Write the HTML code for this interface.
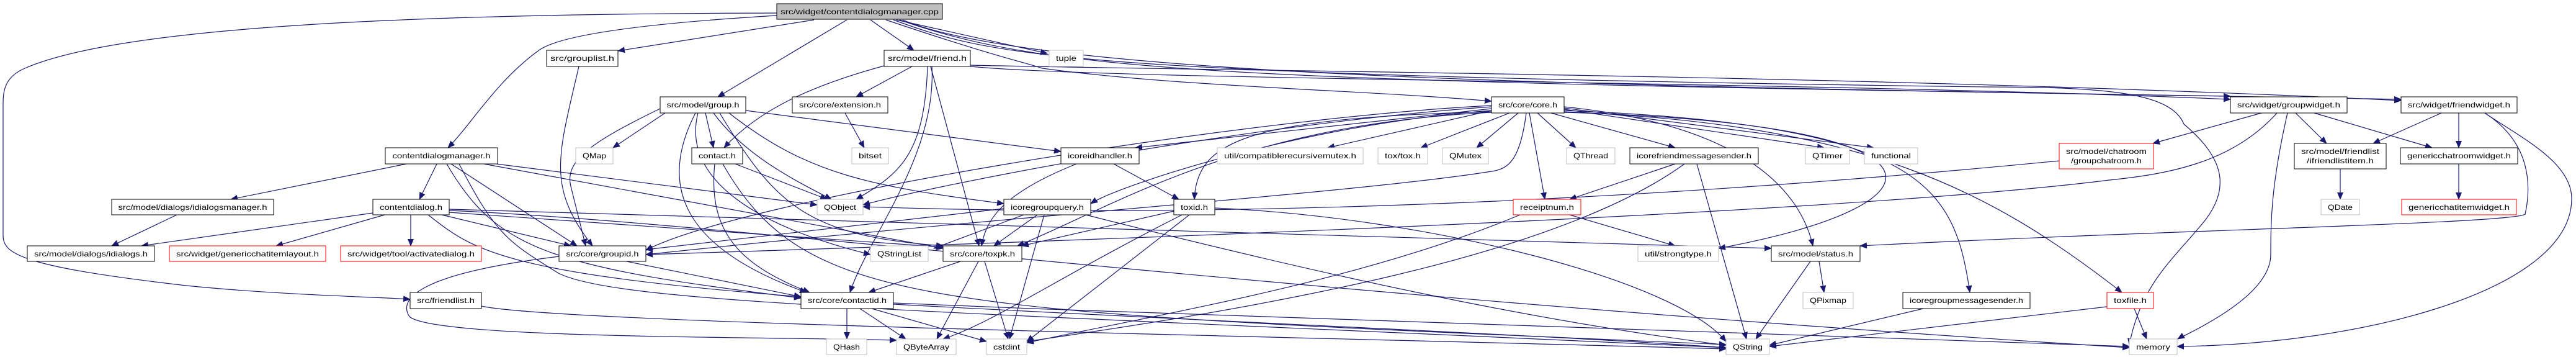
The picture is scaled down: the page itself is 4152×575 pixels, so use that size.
<!DOCTYPE html>
<html><head><meta charset="utf-8"><style>
html,body{margin:0;padding:0;background:#fff;}
svg{display:block;}
text{font-family:"Liberation Sans",sans-serif;font-size:12px;fill:#000;}
.e{fill:none;stroke:#191970;stroke-width:1.2;marker-end:url(#a);}
.b{fill:#fff;stroke:#000;stroke-width:1;}
.g{fill:#fff;stroke:#bfbfbf;stroke-width:1;}
.r{fill:#fff;stroke:#ff0000;stroke-width:1;}
.root{fill:#bfbfbf;stroke:#000;stroke-width:1;}
</style></head><body>
<svg width="4152" height="575" viewBox="0 0 4152 575" xmlns="http://www.w3.org/2000/svg">
<defs><marker id="a" markerUnits="userSpaceOnUse" markerWidth="12" markerHeight="10" refX="11" refY="5" orient="auto"><path d="M0,0 L12,5 L0,10 z" fill="#191970"/></marker></defs>
<g>
<!-- edges from root -->
<path class="e" d="M1252,21 C700,22 200,40 40,110 C5,125 5,150 5,170 L5,380 C5,410 40,430 300,460 C450,475 600,478 661,482"/>
<path class="e" d="M1252,25 C1000,40 900,60 870,80 C800,130 760,200 722,238"/>
<path class="e" d="M1312,32 L996,82"/>
<path class="e" d="M1365,32 L1157,156"/>
<path class="e" d="M1403,32 L1473,81"/>
<path class="e" d="M1445,32 L1688,86"/>
<path class="e" d="M1428,32 C1600,90 1650,100 1680,110 C1900,140 2200,145 2404,163"/>
<path class="e" d="M1450,32 C1700,120 2000,130 3595,155"/>
<path class="e" d="M1455,32 C1700,135 2800,140 3870,160"/>
<path class="e" d="M1440,32 C1600,90 1700,120 3200,140 C3400,140 3500,150 3520,200 C3580,250 3600,300 3550,360 C3500,420 3450,460 3432,556"/>
<!-- contentdialogmanager -->
<path class="e" d="M655,264 L372,321"/>
<path class="e" d="M704,264 L676,321"/>
<path class="e" d="M727,264 L930,396"/>
<path class="e" d="M720,264 C800,400 880,430 1291,480"/>
<path class="e" d="M800,264 L1317,330"/>
<path class="e" d="M780,264 L1520,400"/>
<path class="e" d="M740,264 C800,380 820,390 900,440 C1000,490 1500,500 2782,560"/>
<!-- contentdialog -->
<path class="e" d="M601,343 L228,396"/>
<path class="e" d="M620,346 L445,396"/>
<path class="e" d="M662,346 L662,396"/>
<path class="e" d="M712,346 L920,396"/>
<path class="e" d="M690,346 C760,400 800,440 1291,478"/>
<path class="e" d="M724,342 L1520,398"/>
<path class="e" d="M724,337 L2855,400"/>
<path class="e" d="M724,339 C1200,360 2000,470 3432,560"/>
<path class="e" d="M285,346 L180,396"/>
<!-- grouplist, groupid, friendlist -->
<path class="e" d="M933,107 C900,250 880,300 955,396"/>
<path class="e" d="M1010,421 L1291,478"/>
<path class="e" d="M901,413 C680,440 640,480 660,510 C700,545 1200,542 1445,548"/>
<path class="e" d="M776,493 C900,520 2000,540 2782,562"/>
<!-- group.h -->
<path class="e" d="M1137,182 L1150,238"/>
<path class="e" d="M1150,182 C1200,250 1280,290 1340,321"/>
<path class="e" d="M1064,175 C950,230 910,260 920,300 C930,340 940,380 944,396"/>
<path class="e" d="M1072,182 L988,238"/>
<path class="e" d="M1202,178 L1710,244"/>
<path class="e" d="M1175,182 C1300,280 1400,300 1618,328"/>
<path class="e" d="M1160,182 C1250,330 1300,380 1520,396"/>
<path class="e" d="M1121,182 C1060,300 1100,400 1300,471"/>
<path class="e" d="M1125,182 C1100,280 1200,360 1403,410"/>
<!-- friend.h -->
<path class="e" d="M1470,107 L1380,156"/>
<path class="e" d="M1425,106 C1300,140 1220,180 1167,238"/>
<path class="e" d="M1495,107 C1490,250 1450,280 1380,321"/>
<path class="e" d="M1500,107 L1578,396"/>
<path class="e" d="M1502,107 C1510,250 1400,380 1370,471"/>
<path class="e" d="M1564,107 C1800,130 2900,130 3595,160"/>
<path class="e" d="M1564,105 C2000,115 3000,120 3870,162"/>
<!-- extension / contact -->
<path class="e" d="M1362,182 L1393,238"/>
<path class="e" d="M1185,264 L1333,321"/>
<path class="e" d="M1152,264 C1140,380 1200,430 1305,471"/>
<path class="e" d="M1165,264 C1300,500 1500,500 2782,555"/>
<!-- icoreidhandler / icoregroupquery / toxid / toxpk -->
<path class="e" d="M1795,264 L1900,321"/>
<path class="e" d="M1735,264 C1620,310 1590,350 1582,396"/>
<path class="e" d="M1650,346 L1505,400"/>
<path class="e" d="M1672,346 L1602,396"/>
<path class="e" d="M1683,346 L1627,546"/>
<path class="e" d="M1618,336 L1041,402"/>
<path class="e" d="M1750,346 C2200,460 2500,520 2782,556"/>
<path class="e" d="M1917,346 L1655,550"/>
<path class="e" d="M1905,346 C1700,450 1600,520 1520,546"/>
<path class="e" d="M1892,340 L1647,396"/>
<path class="e" d="M1958,335 C2300,350 2700,450 2782,550"/>
<path class="e" d="M1548,421 L1400,471"/>
<path class="e" d="M1577,421 L1510,546"/>
<path class="e" d="M1587,421 L1625,546"/>
<path class="e" d="M1365,497 L1365,546"/>
<path class="e" d="M1386,497 L1460,546"/>
<path class="e" d="M1405,497 L1590,550"/>
<path class="e" d="M1440,490 C2000,520 2500,540 2782,560"/>
<path class="e" d="M1440,488 C2200,520 3000,540 3432,558"/>
<!-- core.h -->
<path class="e" d="M2404,178 L2140,238"/>
<path class="e" d="M2433,182 L2290,238"/>
<path class="e" d="M2447,182 L2380,238"/>
<path class="e" d="M2478,182 L2540,238"/>
<path class="e" d="M2500,182 L2700,238"/>
<path class="e" d="M2521,176 L2940,238"/>
<path class="e" d="M2521,174 L3020,238"/>
<path class="e" d="M2465,182 L2490,321"/>
<path class="e" d="M2521,172 C2800,200 2900,300 2922,396"/>
<path class="e" d="M2404,172 C2000,200 1500,300 1391,330"/>
<path class="e" d="M2404,175 L1830,238"/>
<path class="e" d="M2404,178 C2100,200 1800,300 1758,328"/>
<path class="e" d="M2404,180 C2000,190 1930,230 1925,321"/>
<path class="e" d="M2404,181 C2000,200 1800,330 1640,396"/>
<path class="e" d="M2404,170 C2000,190 1200,320 1041,403"/>
<path class="e" d="M2521,178 C3100,200 3150,300 3175,471"/>
<path class="e" d="M2521,180 C3000,200 3200,300 3420,471"/>
<path class="e" d="M2521,181 C3180,200 3150,330 2770,400"/>
<path class="e" d="M2460,182 C2450,260 2430,270 2410,275 C2200,310 1600,350 1041,410"/>
<!-- icorefriendmessagesender / receiptnum / status -->
<path class="e" d="M2700,264 L2530,321"/>
<path class="e" d="M2735,264 L2815,546"/>
<path class="e" d="M2715,264 C2500,420 2000,500 1655,550"/>
<path class="e" d="M2530,346 L2700,396"/>
<path class="e" d="M2450,346 C2200,450 1900,500 1655,552"/>
<path class="e" d="M2932,421 L2940,471"/>
<path class="e" d="M2918,421 L2830,546"/>
<path class="e" d="M3100,497 L2852,556"/>
<path class="e" d="M3440,497 L3460,546"/>
<path class="e" d="M3396,494 L2852,558"/>
<!-- widgets -->
<path class="e" d="M3645,182 L3470,231"/>
<path class="e" d="M3700,182 L3750,231"/>
<path class="e" d="M3730,182 L3920,238"/>
<path class="e" d="M3687,182 C3660,300 3660,360 3660,410 C3660,480 3520,540 3510,546"/>
<path class="e" d="M3670,182 C3600,260 3500,280 3400,290 C3000,340 2000,380 1041,410"/>
<path class="e" d="M3935,182 L3825,231"/>
<path class="e" d="M3963,182 L3963,238"/>
<path class="e" d="M4005,182 C4060,220 4145,260 4145,320 C4145,470 3800,555 3509,558"/>
<path class="e" d="M4005,182 C4080,230 4080,300 4070,345 C4050,360 3500,370 2998,396"/>
<path class="e" d="M3319,259 C3000,290 2200,360 1391,333"/>
<path class="e" d="M3772,272 L3772,321"/>
<path class="e" d="M3963,264 L3963,321"/>
</g>
<g>
<rect class="root" x="1252" y="6" width="267" height="25"/><text x="1385.5" y="23" text-anchor="middle" textLength="255" lengthAdjust="spacingAndGlyphs">src/widget/contentdialogmanager.cpp</text>
<rect class="b" x="881" y="81" width="115" height="26"/><text x="938.5" y="98" text-anchor="middle" textLength="103" lengthAdjust="spacingAndGlyphs">src/grouplist.h</text>
<rect class="b" x="1425" y="81" width="139" height="26"/><text x="1494.5" y="98" text-anchor="middle" textLength="127" lengthAdjust="spacingAndGlyphs">src/model/friend.h</text>
<rect class="g" x="1691" y="81" width="55" height="26"/><text x="1718.5" y="98" text-anchor="middle" textLength="33" lengthAdjust="spacingAndGlyphs">tuple</text>
<rect class="b" x="621" y="238" width="181" height="26"/><text x="711.5" y="255" text-anchor="middle" textLength="158" lengthAdjust="spacingAndGlyphs">contentdialogmanager.h</text>
<rect class="g" x="928" y="238" width="60" height="26"/><text x="958" y="255" text-anchor="middle" textLength="38" lengthAdjust="spacingAndGlyphs">QMap</text>
<rect class="b" x="180" y="321" width="261" height="25"/><text x="310.5" y="338" text-anchor="middle" textLength="240" lengthAdjust="spacingAndGlyphs">src/model/dialogs/idialogsmanager.h</text>
<rect class="b" x="601" y="321" width="123" height="25"/><text x="662.5" y="338" text-anchor="middle" textLength="101" lengthAdjust="spacingAndGlyphs">contentdialog.h</text>
<rect class="b" x="44" y="396" width="205" height="25"/><text x="146.5" y="413" text-anchor="middle" textLength="183" lengthAdjust="spacingAndGlyphs">src/model/dialogs/idialogs.h</text>
<rect class="r" x="273" y="396" width="252" height="25"/><text x="399" y="413" text-anchor="middle" textLength="230" lengthAdjust="spacingAndGlyphs">src/widget/genericchatitemlayout.h</text>
<rect class="r" x="549" y="396" width="227" height="25"/><text x="662.5" y="413" text-anchor="middle" textLength="205" lengthAdjust="spacingAndGlyphs">src/widget/tool/activatedialog.h</text>
<rect class="b" x="901" y="396" width="140" height="25"/><text x="971" y="413" text-anchor="middle" textLength="117" lengthAdjust="spacingAndGlyphs">src/core/groupid.h</text>
<rect class="b" x="661" y="471" width="115" height="26"/><text x="718.5" y="488" text-anchor="middle" textLength="93" lengthAdjust="spacingAndGlyphs">src/friendlist.h</text>
<rect class="b" x="1064" y="156" width="138" height="26"/><text x="1133" y="173" text-anchor="middle" textLength="117" lengthAdjust="spacingAndGlyphs">src/model/group.h</text>
<rect class="b" x="1277" y="156" width="154" height="26"/><text x="1354" y="173" text-anchor="middle" textLength="132" lengthAdjust="spacingAndGlyphs">src/core/extension.h</text>
<rect class="b" x="1115" y="238" width="82" height="26"/><text x="1156" y="255" text-anchor="middle" textLength="60" lengthAdjust="spacingAndGlyphs">contact.h</text>
<rect class="g" x="1373" y="238" width="59" height="26"/><text x="1402.5" y="255" text-anchor="middle" textLength="37" lengthAdjust="spacingAndGlyphs">bitset</text>
<rect class="b" x="1710" y="238" width="126" height="26"/><text x="1773" y="255" text-anchor="middle" textLength="104" lengthAdjust="spacingAndGlyphs">icoreidhandler.h</text>
<rect class="g" x="1962" y="238" width="235" height="26"/><text x="2079.5" y="255" text-anchor="middle" textLength="213" lengthAdjust="spacingAndGlyphs">util/compatiblerecursivemutex.h</text>
<rect class="g" x="1317" y="321" width="74" height="25"/><text x="1354" y="338" text-anchor="middle" textLength="52" lengthAdjust="spacingAndGlyphs">QObject</text>
<rect class="b" x="1618" y="321" width="140" height="25"/><text x="1688" y="338" text-anchor="middle" textLength="118" lengthAdjust="spacingAndGlyphs">icoregroupquery.h</text>
<rect class="b" x="1892" y="321" width="66" height="25"/><text x="1925" y="338" text-anchor="middle" textLength="44" lengthAdjust="spacingAndGlyphs">toxid.h</text>
<rect class="g" x="1403" y="396" width="93" height="25"/><text x="1449.5" y="413" text-anchor="middle" textLength="71" lengthAdjust="spacingAndGlyphs">QStringList</text>
<rect class="b" x="1520" y="396" width="127" height="25"/><text x="1583.5" y="413" text-anchor="middle" textLength="105" lengthAdjust="spacingAndGlyphs">src/core/toxpk.h</text>
<rect class="b" x="1291" y="471" width="149" height="26"/><text x="1365.5" y="488" text-anchor="middle" textLength="127" lengthAdjust="spacingAndGlyphs">src/core/contactid.h</text>
<rect class="g" x="1332" y="546" width="65" height="25"/><text x="1364.5" y="563" text-anchor="middle" textLength="43" lengthAdjust="spacingAndGlyphs">QHash</text>
<rect class="g" x="1445" y="546" width="96" height="25"/><text x="1493" y="563" text-anchor="middle" textLength="74" lengthAdjust="spacingAndGlyphs">QByteArray</text>
<rect class="g" x="1590" y="546" width="65" height="25"/><text x="1622.5" y="563" text-anchor="middle" textLength="43" lengthAdjust="spacingAndGlyphs">cstdint</text>
<rect class="b" x="2404" y="156" width="117" height="26"/><text x="2462.5" y="173" text-anchor="middle" textLength="95" lengthAdjust="spacingAndGlyphs">src/core/core.h</text>
<rect class="g" x="2221" y="238" width="80" height="26"/><text x="2261" y="255" text-anchor="middle" textLength="58" lengthAdjust="spacingAndGlyphs">tox/tox.h</text>
<rect class="g" x="2325" y="238" width="74" height="26"/><text x="2362" y="255" text-anchor="middle" textLength="52" lengthAdjust="spacingAndGlyphs">QMutex</text>
<rect class="g" x="2525" y="238" width="78" height="26"/><text x="2564" y="255" text-anchor="middle" textLength="56" lengthAdjust="spacingAndGlyphs">QThread</text>
<rect class="b" x="2627" y="238" width="207" height="26"/><text x="2730.5" y="255" text-anchor="middle" textLength="185" lengthAdjust="spacingAndGlyphs">icorefriendmessagesender.h</text>
<rect class="g" x="2910" y="238" width="71" height="26"/><text x="2945.5" y="255" text-anchor="middle" textLength="49" lengthAdjust="spacingAndGlyphs">QTimer</text>
<rect class="g" x="3005" y="238" width="86" height="26"/><text x="3048" y="255" text-anchor="middle" textLength="64" lengthAdjust="spacingAndGlyphs">functional</text>
<rect class="r" x="2439" y="321" width="109" height="25"/><text x="2493.5" y="338" text-anchor="middle" textLength="87" lengthAdjust="spacingAndGlyphs">receiptnum.h</text>
<rect class="g" x="2640" y="396" width="130" height="25"/><text x="2705" y="413" text-anchor="middle" textLength="108" lengthAdjust="spacingAndGlyphs">util/strongtype.h</text>
<rect class="b" x="2855" y="396" width="143" height="25"/><text x="2926.5" y="413" text-anchor="middle" textLength="121" lengthAdjust="spacingAndGlyphs">src/model/status.h</text>
<rect class="g" x="2906" y="471" width="81" height="26"/><text x="2946.5" y="488" text-anchor="middle" textLength="59" lengthAdjust="spacingAndGlyphs">QPixmap</text>
<rect class="b" x="3067" y="471" width="205" height="26"/><text x="3169.5" y="488" text-anchor="middle" textLength="183" lengthAdjust="spacingAndGlyphs">icoregroupmessagesender.h</text>
<rect class="g" x="2782" y="546" width="70" height="25"/><text x="2817" y="563" text-anchor="middle" textLength="48" lengthAdjust="spacingAndGlyphs">QString</text>
<rect class="b" x="3595" y="156" width="188" height="26"/><text x="3689" y="173" text-anchor="middle" textLength="166" lengthAdjust="spacingAndGlyphs">src/widget/groupwidget.h</text>
<rect class="b" x="3870" y="156" width="187" height="26"/><text x="3963.5" y="173" text-anchor="middle" textLength="165" lengthAdjust="spacingAndGlyphs">src/widget/friendwidget.h</text>
<rect class="r" x="3319" y="231" width="152" height="41"/><text x="3395" y="248" text-anchor="middle" textLength="130" lengthAdjust="spacingAndGlyphs">src/model/chatroom</text><text x="3395" y="263" text-anchor="middle" textLength="114" lengthAdjust="spacingAndGlyphs">/groupchatroom.h</text>
<rect class="b" x="3698" y="231" width="148" height="41"/><text x="3772" y="248" text-anchor="middle" textLength="126" lengthAdjust="spacingAndGlyphs">src/model/friendlist</text><text x="3772" y="263" text-anchor="middle" textLength="108" lengthAdjust="spacingAndGlyphs">/ifriendlistitem.h</text>
<rect class="b" x="3869" y="238" width="189" height="26"/><text x="3963.5" y="255" text-anchor="middle" textLength="167" lengthAdjust="spacingAndGlyphs">genericchatroomwidget.h</text>
<rect class="g" x="3741" y="321" width="62" height="25"/><text x="3772" y="338" text-anchor="middle" textLength="40" lengthAdjust="spacingAndGlyphs">QDate</text>
<rect class="r" x="3871" y="321" width="185" height="25"/><text x="3963.5" y="338" text-anchor="middle" textLength="163" lengthAdjust="spacingAndGlyphs">genericchatitemwidget.h</text>
<rect class="r" x="3396" y="471" width="75" height="26"/><text x="3433.5" y="488" text-anchor="middle" textLength="53" lengthAdjust="spacingAndGlyphs">toxfile.h</text>
<rect class="g" x="3432" y="546" width="77" height="25"/><text x="3470.5" y="563" text-anchor="middle" textLength="55" lengthAdjust="spacingAndGlyphs">memory</text>
</g>
</svg>
</body></html>
